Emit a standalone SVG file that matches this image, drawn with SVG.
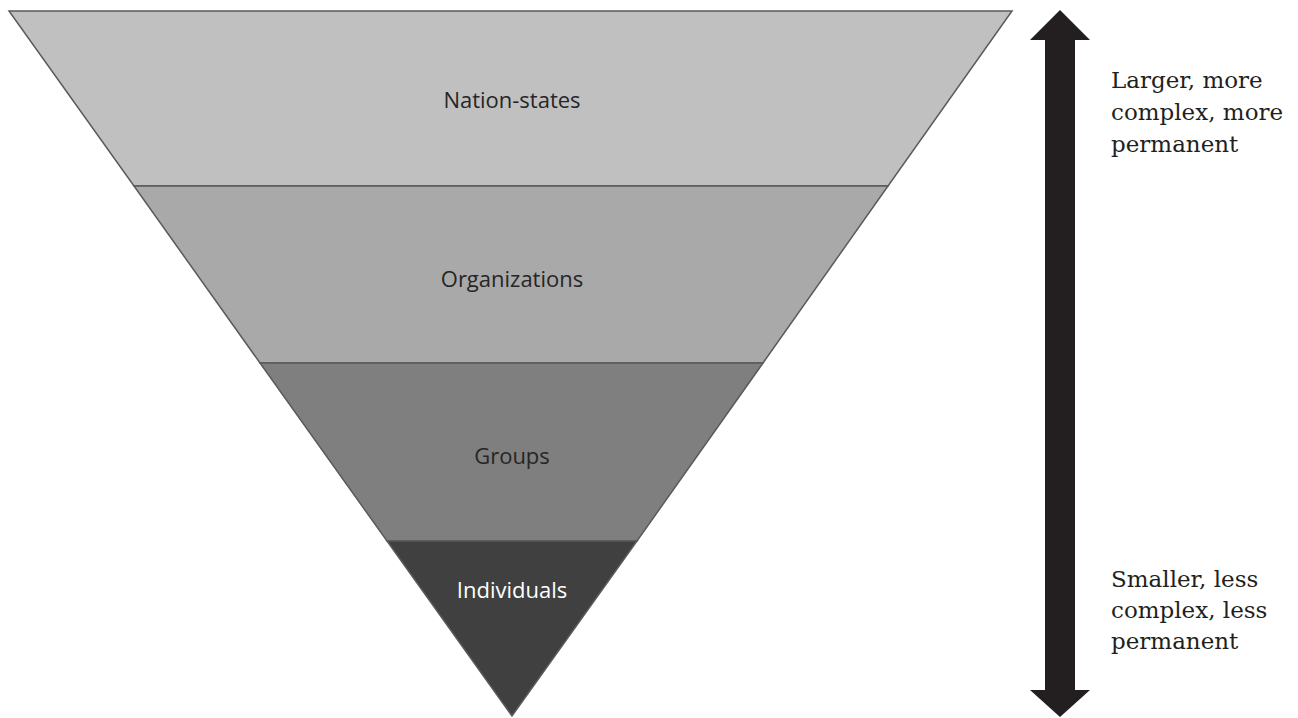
<svg xmlns="http://www.w3.org/2000/svg" width="1298" height="718" viewBox="0 0 1298 718">
<style>
.band{stroke:#5a5a5a;stroke-width:1.5;stroke-linejoin:miter}
.lbl{font-family:"Open Sans","Noto Sans",sans-serif;font-size:22px;text-anchor:middle;fill:#262626}
.side{font-family:"DejaVu Serif","Liberation Serif",serif;font-size:23px;fill:#231f20}
</style>
<rect width="1298" height="718" fill="#ffffff"/>
<g id="nation-states">
<polygon class="band" points="9,11 1012,11 888,186 134,186" fill="#c0c0c0"/>
<text class="lbl" x="512" y="108">Nation-states</text>
</g>
<g id="organizations">
<polygon class="band" points="134,186 888,186 763,363 260,363" fill="#a9a9a9"/>
<text class="lbl" x="512" y="287">Organizations</text>
</g>
<g id="groups">
<polygon class="band" points="260,363 763,363 637,541 387,541" fill="#7f7f7f"/>
<text class="lbl" x="512" y="464">Groups</text>
</g>
<g id="individuals">
<polygon class="band" points="387,541 637,541 512,716" fill="#404040"/>
<text class="lbl" x="512" y="598" style="fill:#ffffff">Individuals</text>
</g>
<g id="connectors">
<polygon points="1060,10 1090,40 1075,40 1075,690 1090,690 1060,717 1030,690 1045,690 1045,40 1030,40" fill="#231f20"/>
</g>
<g id="side-labels">
<text class="side"><tspan x="1111" y="88">Larger, more</tspan><tspan x="1111" y="120">complex, more</tspan><tspan x="1111" y="152">permanent</tspan></text>
<text class="side"><tspan x="1111" y="587">Smaller, less</tspan><tspan x="1111" y="618">complex, less</tspan><tspan x="1111" y="649">permanent</tspan></text>
</g>
</svg>
